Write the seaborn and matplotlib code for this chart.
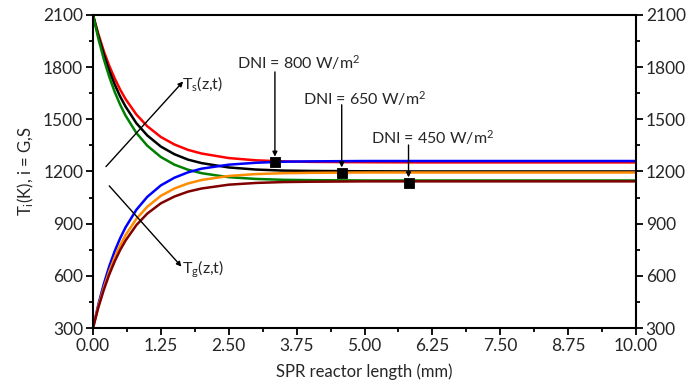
import matplotlib
matplotlib.use("Agg")
import matplotlib.pyplot as plt
import seaborn as sns
from matplotlib.ticker import MultipleLocator

# Reactor length positions (mm)
length = [0.0, 0.1, 0.2, 0.3, 0.4, 0.5, 0.6, 0.8, 1.0, 1.25, 1.5, 1.75,
          2.0, 2.5, 3.0, 3.5, 4.0, 5.0, 6.0, 8.0, 10.0]

# Solid temperature T_s(z,t) for each DNI
ts_800 = [2100, 1989, 1891, 1807, 1735, 1671, 1616, 1527, 1460, 1398, 1355, 1324,
          1303, 1277, 1264, 1258, 1255, 1253, 1252, 1252, 1252]
ts_650 = [2100, 1977, 1871, 1779, 1700, 1631, 1573, 1477, 1407, 1343, 1299, 1268,
          1248, 1223, 1211, 1205, 1203, 1201, 1200, 1200, 1200]
ts_450 = [2100, 1962, 1845, 1744, 1657, 1584, 1521, 1421, 1348, 1283, 1239, 1210,
          1190, 1167, 1157, 1152, 1150, 1148, 1148, 1148, 1148]

# Gas temperature T_g(z,t) for each DNI
tg_800 = [300, 437, 554, 655, 742, 816, 879, 980, 1054, 1120, 1164, 1195,
          1216, 1239, 1250, 1256, 1258, 1260, 1260, 1260, 1260]
tg_650 = [300, 426, 533, 626, 706, 775, 834, 928, 997, 1060, 1102, 1131,
          1151, 1174, 1185, 1190, 1192, 1194, 1194, 1194, 1194]
tg_450 = [300, 419, 520, 608, 683, 748, 803, 892, 958, 1017, 1056, 1084,
          1102, 1124, 1134, 1139, 1141, 1143, 1143, 1143, 1143]

# Marker points labelled with DNI
dni_labels = ["DNI = 800 W/m$^2$", "DNI = 650 W/m$^2$", "DNI = 450 W/m$^2$"]
dni_x = [3.35, 4.58, 5.81]
dni_y = [1255, 1193, 1136]

sns.set_style("white")
plt.rcParams["font.family"] = ["Lato", "DejaVu Sans"]
plt.rcParams["mathtext.default"] = "regular"

fig, ax = plt.subplots(figsize=(6.99, 3.91), dpi=100)
fig.subplots_adjust(left=0.133, right=0.910, top=0.962, bottom=0.161)

for series, color in [(ts_800, "#ff0000"), (ts_650, "#000000"), (ts_450, "#008000")]:
    sns.lineplot(x=length, y=series, color=color, linewidth=1.8, ax=ax)
for series, color in [(tg_800, "#0000ff"), (tg_650, "#ff8c00"), (tg_450, "#800000")]:
    sns.lineplot(x=length, y=series, color=color, linewidth=1.8, ax=ax)

sns.scatterplot(x=dni_x, y=dni_y, marker="s", s=55, color="black",
                edgecolor="black", zorder=5, ax=ax)

arrow = dict(arrowstyle="-|>", color="black", lw=1.0, mutation_scale=7,
             shrinkA=0, shrinkB=0)
text_pos = [(3.79, 1824), (5.0, 1617), (6.25, 1393)]
arrow_top = [1772, 1583, 1352]
for label, (tx, ty), xm, ym, top in zip(dni_labels, text_pos, dni_x, dni_y, arrow_top):
    ax.text(tx, ty, label, ha="center", va="center", fontsize=11.5)
    ax.annotate("", xy=(xm, ym + 30), xytext=(xm, top), arrowprops=arrow)

ax.annotate("", xy=(1.66, 1717), xytext=(0.24, 1228), arrowprops=arrow)
ax.text(1.64, 1703, "T$_s$(z,t)", ha="left", va="center", fontsize=11.5)
ax.annotate("", xy=(1.63, 653), xytext=(0.30, 1117), arrowprops=arrow)
ax.text(1.64, 640, "T$_g$(z,t)", ha="left", va="center", fontsize=11.5)

ax.set_xlim(0, 10)
ax.set_ylim(300, 2100)
ax.xaxis.set_major_locator(MultipleLocator(1.25))
ax.xaxis.set_minor_locator(MultipleLocator(0.625))
ax.yaxis.set_major_locator(MultipleLocator(300))
ax.yaxis.set_minor_locator(MultipleLocator(150))
ax.set_xticks([0, 1.25, 2.5, 3.75, 5.0, 6.25, 7.5, 8.75, 10.0])
ax.set_xticklabels(["0.00", "1.25", "2.50", "3.75", "5.00", "6.25", "7.50", "8.75", "10.00"])

ax.tick_params(which="both", direction="out", labelsize=12.5, width=1.3, color="black",
               bottom=True, left=True, right=True, labelright=True, top=False)
ax.tick_params(which="major", length=5, pad=2)
ax.tick_params(which="minor", length=3)
for sp in ax.spines.values():
    sp.set_linewidth(1.5)
    sp.set_color("black")

ax.set_xlabel("SPR reactor length (mm)", fontsize=12, labelpad=7)
ax.set_ylabel("T$_i$(K), i = G,S", fontsize=12, labelpad=5)

fig.savefig("out.png", dpi=100)
